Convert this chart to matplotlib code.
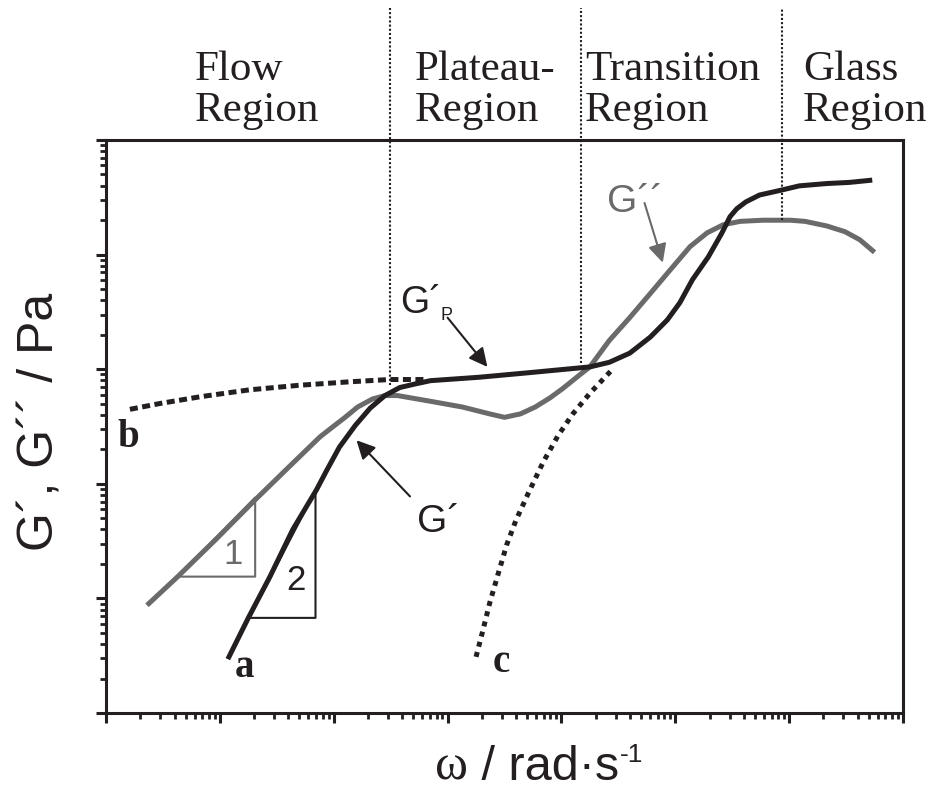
import matplotlib
matplotlib.use("Agg")
import matplotlib.pyplot as plt
import numpy as np
from matplotlib.ticker import LogLocator, NullFormatter

BLACK = '#231f20'
GRAY = '#6a6a6a'

# curves, as log10 values (arbitrary units)
gpp_lw = [0.36, 0.63, 0.96, 1.31, 1.62, 1.88, 1.97, 2.10, 2.21, 2.34, 2.45, 2.56,
          2.85, 3.13, 3.37, 3.50, 3.64, 3.77, 3.90, 4.01, 4.16, 4.25, 4.42, 4.60,
          4.78, 4.95, 5.13, 5.28, 5.42, 5.57, 5.77, 6.01, 6.14, 6.33, 6.49, 6.62, 6.75]
gpp_lg = [0.94, 1.19, 1.51, 1.86, 2.16, 2.41, 2.48, 2.58, 2.67, 2.74, 2.77, 2.77,
          2.72, 2.67, 2.61, 2.58, 2.61, 2.67, 2.75, 2.83, 2.95, 3.02, 3.25, 3.45,
          3.66, 3.86, 4.07, 4.19, 4.26, 4.29, 4.30, 4.30, 4.29, 4.25, 4.20, 4.13, 4.02]

gp_lw = [1.07, 1.25, 1.44, 1.64, 1.85, 1.94, 2.05, 2.19, 2.32, 2.45, 2.58, 2.71,
         2.85, 3.28, 3.72, 4.25, 4.42, 4.60, 4.78, 4.93, 5.04, 5.15, 5.29, 5.41,
         5.48, 5.54, 5.62, 5.74, 5.92, 6.09, 6.33, 6.53, 6.73]
gp_lg = [0.47, 0.83, 1.19, 1.60, 1.95, 2.12, 2.32, 2.51, 2.66, 2.77, 2.84, 2.87,
         2.90, 2.93, 2.97, 3.02, 3.06, 3.14, 3.28, 3.43, 3.58, 3.78, 3.98, 4.19,
         4.33, 4.40, 4.46, 4.52, 4.56, 4.60, 4.62, 4.63, 4.65]

b_lw = [0.21, 0.47, 0.83, 1.26, 1.70, 2.14, 2.49, 2.80]
b_lg = [2.65, 2.70, 2.76, 2.82, 2.86, 2.89, 2.91, 2.91]

c_lw = [3.25, 3.31, 3.37, 3.44, 3.52, 3.60, 3.71, 3.84, 3.97, 4.10, 4.25, 4.43]
c_lg = [0.49, 0.72, 0.96, 1.20, 1.47, 1.68, 1.92, 2.19, 2.42, 2.61, 2.79, 2.98]

# slope triangles (log10 corners)
tri1_lw = [0.63, 1.31, 1.31]
tri1_lg = [1.19, 1.19, 1.88]
tri2_lw = [1.26, 1.84, 1.84]
tri2_lg = [0.83, 0.83, 1.94]

# region borders: log10 omega and where each line ends at the bottom
border_lw = [2.49, 4.17, 5.94]
border_lg_low = [2.86, 3.05, 4.30]
border_lg_top = 6.15

regions = [("Flow", "Region"), ("Plateau-", "Region"),
           ("Transition", "Region"), ("Glass", "Region")]
region_px = [195, 415, 585, 803]

W, H = 930, 791
fig = plt.figure(figsize=(W / 100, H / 100), dpi=100)
ax = fig.add_axes([106 / W, 1 - 713 / H, (903 - 106) / W, (713 - 140) / H])


def p(lw, lg):
    return 10 ** np.asarray(lw), 10 ** np.asarray(lg)


ax.plot(*p(gpp_lw, gpp_lg), color=GRAY, lw=3.6, solid_capstyle='butt', solid_joinstyle='round')
ax.plot(*p(gp_lw, gp_lg), color=BLACK, lw=3.6, solid_capstyle='butt', solid_joinstyle='round')
ax.plot(*p(b_lw, b_lg), color=BLACK, lw=3.6, ls=(0, (1.6, 0.9)))
ax.plot(*p(c_lw, c_lg), color=BLACK, lw=3.6, ls=(0, (1, 1.1)))

ax.plot(*p(tri1_lw + tri1_lw[:1], tri1_lg + tri1_lg[:1]), color=GRAY, lw=1.5)
ax.plot(*p(tri2_lw + tri2_lw[:1], tri2_lg + tri2_lg[:1]), color=BLACK, lw=1.5)
ax.text(10 ** 1.12, 10 ** 1.38, "1", fontsize=25, color=GRAY, ha='center', va='center',
        family='Liberation Sans')
ax.text(10 ** 1.67, 10 ** 1.16, "2", fontsize=25, color=BLACK, ha='center', va='center',
        family='Liberation Sans')

for lw_, lo in zip(border_lw, border_lg_low):
    ax.plot([10 ** lw_] * 2, [10 ** lo, 10 ** border_lg_top], color=BLACK, lw=1.5,
            ls=(0, (1, 1)), clip_on=False)

# arrows with labels
arr = dict(arrowstyle='-|>', lw=1.5, color=BLACK, mutation_scale=28, shrinkA=0, shrinkB=0)
ax.annotate("", xy=(10 ** 2.20, 10 ** 2.38), xytext=(10 ** 2.67, 10 ** 1.89), arrowprops=arr)
ax.annotate("", xy=(10 ** 3.35, 10 ** 3.02), xytext=(10 ** 3.00, 10 ** 3.45), arrowprops=arr)
ax.annotate("", xy=(10 ** 4.89, 10 ** 3.93), xytext=(10 ** 4.73, 10 ** 4.45),
            arrowprops=dict(arr, color=GRAY))

ax.text(10 ** 2.92, 10 ** 1.67, "G´", fontsize=28, color=BLACK, ha='center', va='center',
        family='Liberation Sans')
ax.text(10 ** 2.58, 10 ** 3.49, "G´", fontsize=27, color=BLACK, ha='left',
        va='baseline', family='Liberation Sans')
ax.text(10 ** 2.94, 10 ** 3.43, "P", fontsize=13, color=BLACK, ha='left',
        va='baseline', family='Liberation Sans')
ax.text(10 ** 4.40, 10 ** 4.37, "G´´", fontsize=28, color=GRAY, ha='left', va='baseline',
        family='Liberation Sans')

for txt, lx, ly in [("a", 1.22, 0.40), ("b", 0.20, 2.40), ("c", 3.47, 0.44)]:
    ax.text(10 ** lx, 10 ** ly, txt, fontsize=28, fontweight='bold', color=BLACK,
            ha='center', va='center', family='Liberation Serif')

for (l1, l2), px in zip(regions, region_px):
    fig.text(px / W, 1 - 80 / H, l1, fontsize=31, family='Liberation Serif', color=BLACK,
             ha='left', va='baseline')
    fig.text(px / W, 1 - 121 / H, l2, fontsize=31, family='Liberation Serif', color=BLACK,
             ha='left', va='baseline')

ax.set_xscale('log')
ax.set_yscale('log')
ax.set_xlim(1, 1e7)
ax.set_ylim(1, 1e5)
for axis in (ax.xaxis, ax.yaxis):
    axis.set_major_locator(LogLocator(base=10, numticks=20))
    axis.set_minor_locator(LogLocator(base=10, subs=np.arange(2, 10), numticks=20))
    axis.set_major_formatter(NullFormatter())
    axis.set_minor_formatter(NullFormatter())
ax.tick_params(which='major', direction='out', length=7, width=2.2, color=BLACK)
ax.tick_params(which='minor', direction='out', length=4, width=2, color=BLACK)
for s in ax.spines.values():
    s.set_linewidth(2.2)
    s.set_color(BLACK)

fig.text(40 / W, 1 - 422 / H, "G´, G´´ / Pa", fontsize=36, rotation=90, ha='center',
         va='center', family='Liberation Sans', color=BLACK)

# x label: serif omega, sans unit, small raised exponent
fig.canvas.draw()
r = fig.canvas.get_renderer()
t1 = fig.text(435 / W, 1 - 780 / H, "ω", fontsize=36, ha='left', va='baseline',
              family='Liberation Serif', color=BLACK)
x_end = t1.get_window_extent(r).x1
t2 = fig.text(x_end / W, 1 - 780 / H, " / rad·s", fontsize=35, ha='left', va='baseline',
              family='Liberation Sans', color=BLACK)
x_end = t2.get_window_extent(r).x1
fig.text((x_end + 1) / W, 1 - 762 / H, "-1", fontsize=19, ha='left', va='baseline',
         family='Liberation Sans', color=BLACK)

fig.savefig("out.png", dpi=100)
